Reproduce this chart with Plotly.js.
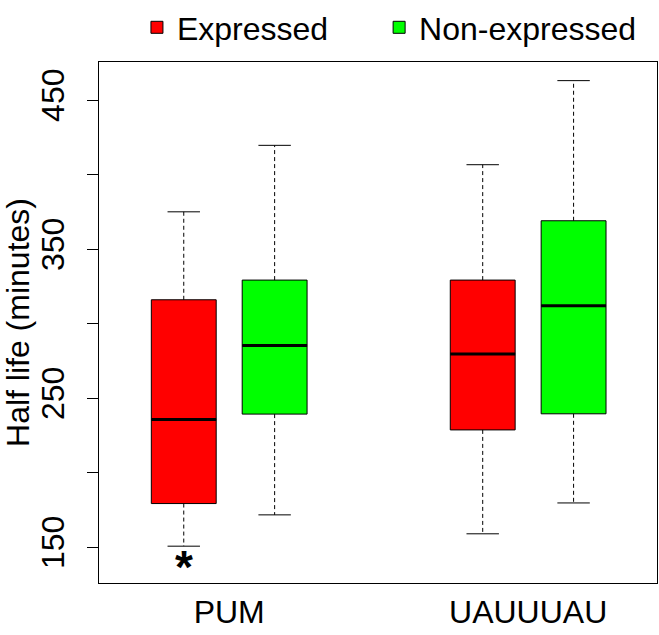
<!DOCTYPE html>
<html>
<head>
<meta charset="utf-8">
<script src="https://cdn.plot.ly/plotly-3.0.1.min.js"></script>
<style>html,body{margin:0;padding:0;background:#fff;}#chart{width:659px;height:635px;}</style>
</head>
<body>
<div id="chart"></div>
<script>
// ---- data ----
var categories = ['PUM', 'UAUUUAU'];
var seriesNames = ['Expressed', 'Non-expressed'];

var expressedLower  = [150.7, 159.0];
var expressedQ1     = [179.3, 228.7];
var expressedMedian = [235.7, 279.7];
var expressedQ3     = [316.0, 329.2];
var expressedUpper  = [375.0, 406.6];

var nonExpLower  = [171.7, 179.7];
var nonExpQ1     = [239.3, 239.5];
var nonExpMedian = [285.4, 312.0];
var nonExpQ3     = [329.2, 369.0];
var nonExpUpper  = [419.6, 463.0];

var significantCategories = ['PUM'];   // marked with * under the Expressed box
var significantSeries = 'Expressed';

var yTickValues = [150, 200, 250, 300, 350, 400, 450];
var yTickLabels = ['150', '', '250', '', '350', '', '450'];

// ---- styling / layout constants ----
var FONT = 'Liberation Sans, Arial, Helvetica, sans-serif';
var FS = 32;
var OFFSET = 0.152;      // half-distance between the two boxes of a group
var BOXW = 0.217;        // box width (x units)
var CAPW = BOXW / 2;     // whisker cap width
var colors = ['#FF0000', '#00FF00'];
var legendIds = ['legend', 'legend2'];
var legendX = [0.068, 0.502];

var allStats = [
  {lower: expressedLower, q1: expressedQ1, med: expressedMedian, q3: expressedQ3, upper: expressedUpper},
  {lower: nonExpLower, q1: nonExpQ1, med: nonExpMedian, q3: nonExpQ3, upper: nonExpUpper}
];

function posOf(ci, si) { return ci + (si === 0 ? -OFFSET : OFFSET); }

var traces = [];
var whiskerX = [], whiskerY = [], capX = [], capY = [], medX = [], medY = [];

allStats.forEach(function (s, si) {
  var xs = categories.map(function (c, ci) { return posOf(ci, si); });
  traces.push({
    type: 'box',
    name: seriesNames[si],
    legend: legendIds[si],
    x: xs,
    q1: s.q1, median: s.med, q3: s.q3,
    lowerfence: s.q1, upperfence: s.q3,
    width: BOXW,
    fillcolor: colors[si],
    line: {color: '#000000', width: 1},
    whiskerwidth: 0,
    boxpoints: false,
    hoverinfo: 'skip',
    showlegend: true
  });
  categories.forEach(function (c, ci) {
    var x = posOf(ci, si);
    whiskerX.push(x, x, null, x, x, null);
    whiskerY.push(s.q3[ci], s.upper[ci], null, s.q1[ci], s.lower[ci], null);
    capX.push(x - CAPW / 2, x + CAPW / 2, null, x - CAPW / 2, x + CAPW / 2, null);
    capY.push(s.upper[ci], s.upper[ci], null, s.lower[ci], s.lower[ci], null);
    medX.push(x - BOXW / 2, x + BOXW / 2, null);
    medY.push(s.med[ci], s.med[ci], null);
  });
});

traces.push({type: 'scatter', mode: 'lines', x: whiskerX, y: whiskerY, line: {color: '#000', width: 1, dash: '4px,3px'}, showlegend: false, hoverinfo: 'skip'});
traces.push({type: 'scatter', mode: 'lines', x: capX, y: capY, line: {color: '#000', width: 1}, showlegend: false, hoverinfo: 'skip'});
traces.push({type: 'scatter', mode: 'lines', x: medX, y: medY, line: {color: '#000', width: 3}, showlegend: false, hoverinfo: 'skip'});

var sIdx = seriesNames.indexOf(significantSeries);
var annotations = significantCategories.map(function (c) {
  var ci = categories.indexOf(c);
  return {
    x: posOf(ci, sIdx), y: allStats[sIdx].lower[ci], xref: 'x', yref: 'y',
    text: '<b>*</b>', showarrow: false, yanchor: 'middle', yshift: -21,
    font: {family: FONT, size: 46, color: '#000'}
  };
});

function legendSpec(i) {
  return {
    orientation: 'h', xref: 'paper', x: legendX[i], xanchor: 'left',
    yref: 'container', y: 1, yanchor: 'top',
    font: {family: FONT, size: FS, color: '#000'},
    bgcolor: 'rgba(0,0,0,0)', borderwidth: 0
  };
}

var layout = {
  width: 659, height: 635,
  margin: {l: 99, r: 2, t: 62, b: 52},
  paper_bgcolor: '#fff', plot_bgcolor: '#fff',
  font: {family: FONT, size: FS, color: '#000'},
  showlegend: true,
  legend: legendSpec(0),
  legend2: legendSpec(1),
  xaxis: {
    type: 'linear', range: [-0.4355, 1.431],
    tickvals: categories.map(function (c, i) { return i; }), ticktext: categories,
    ticks: '', showgrid: false, zeroline: false,
    showline: true, mirror: true, linecolor: '#000', linewidth: 1,
    ticklabelstandoff: 1,
    tickfont: {family: FONT, size: FS, color: '#000'}
  },
  yaxis: {
    range: [126, 475.5],
    tickvals: yTickValues, ticktext: yTickLabels,
    ticks: 'outside', ticklen: 11, tickcolor: '#000', tickwidth: 1,
    tickangle: -90, ticklabelstandoff: 10,
    showgrid: false, zeroline: false,
    showline: true, mirror: true, linecolor: '#000', linewidth: 1,
    automargin: true,
    tickfont: {family: FONT, size: FS, color: '#000'},
    title: {text: 'Half life (minutes)', font: {family: FONT, size: FS, color: '#000'}, standoff: 2}
  },
  annotations: annotations
};

Plotly.newPlot('chart', traces, layout, {staticPlot: true, displayModeBar: false});
</script>
</body>
</html>
